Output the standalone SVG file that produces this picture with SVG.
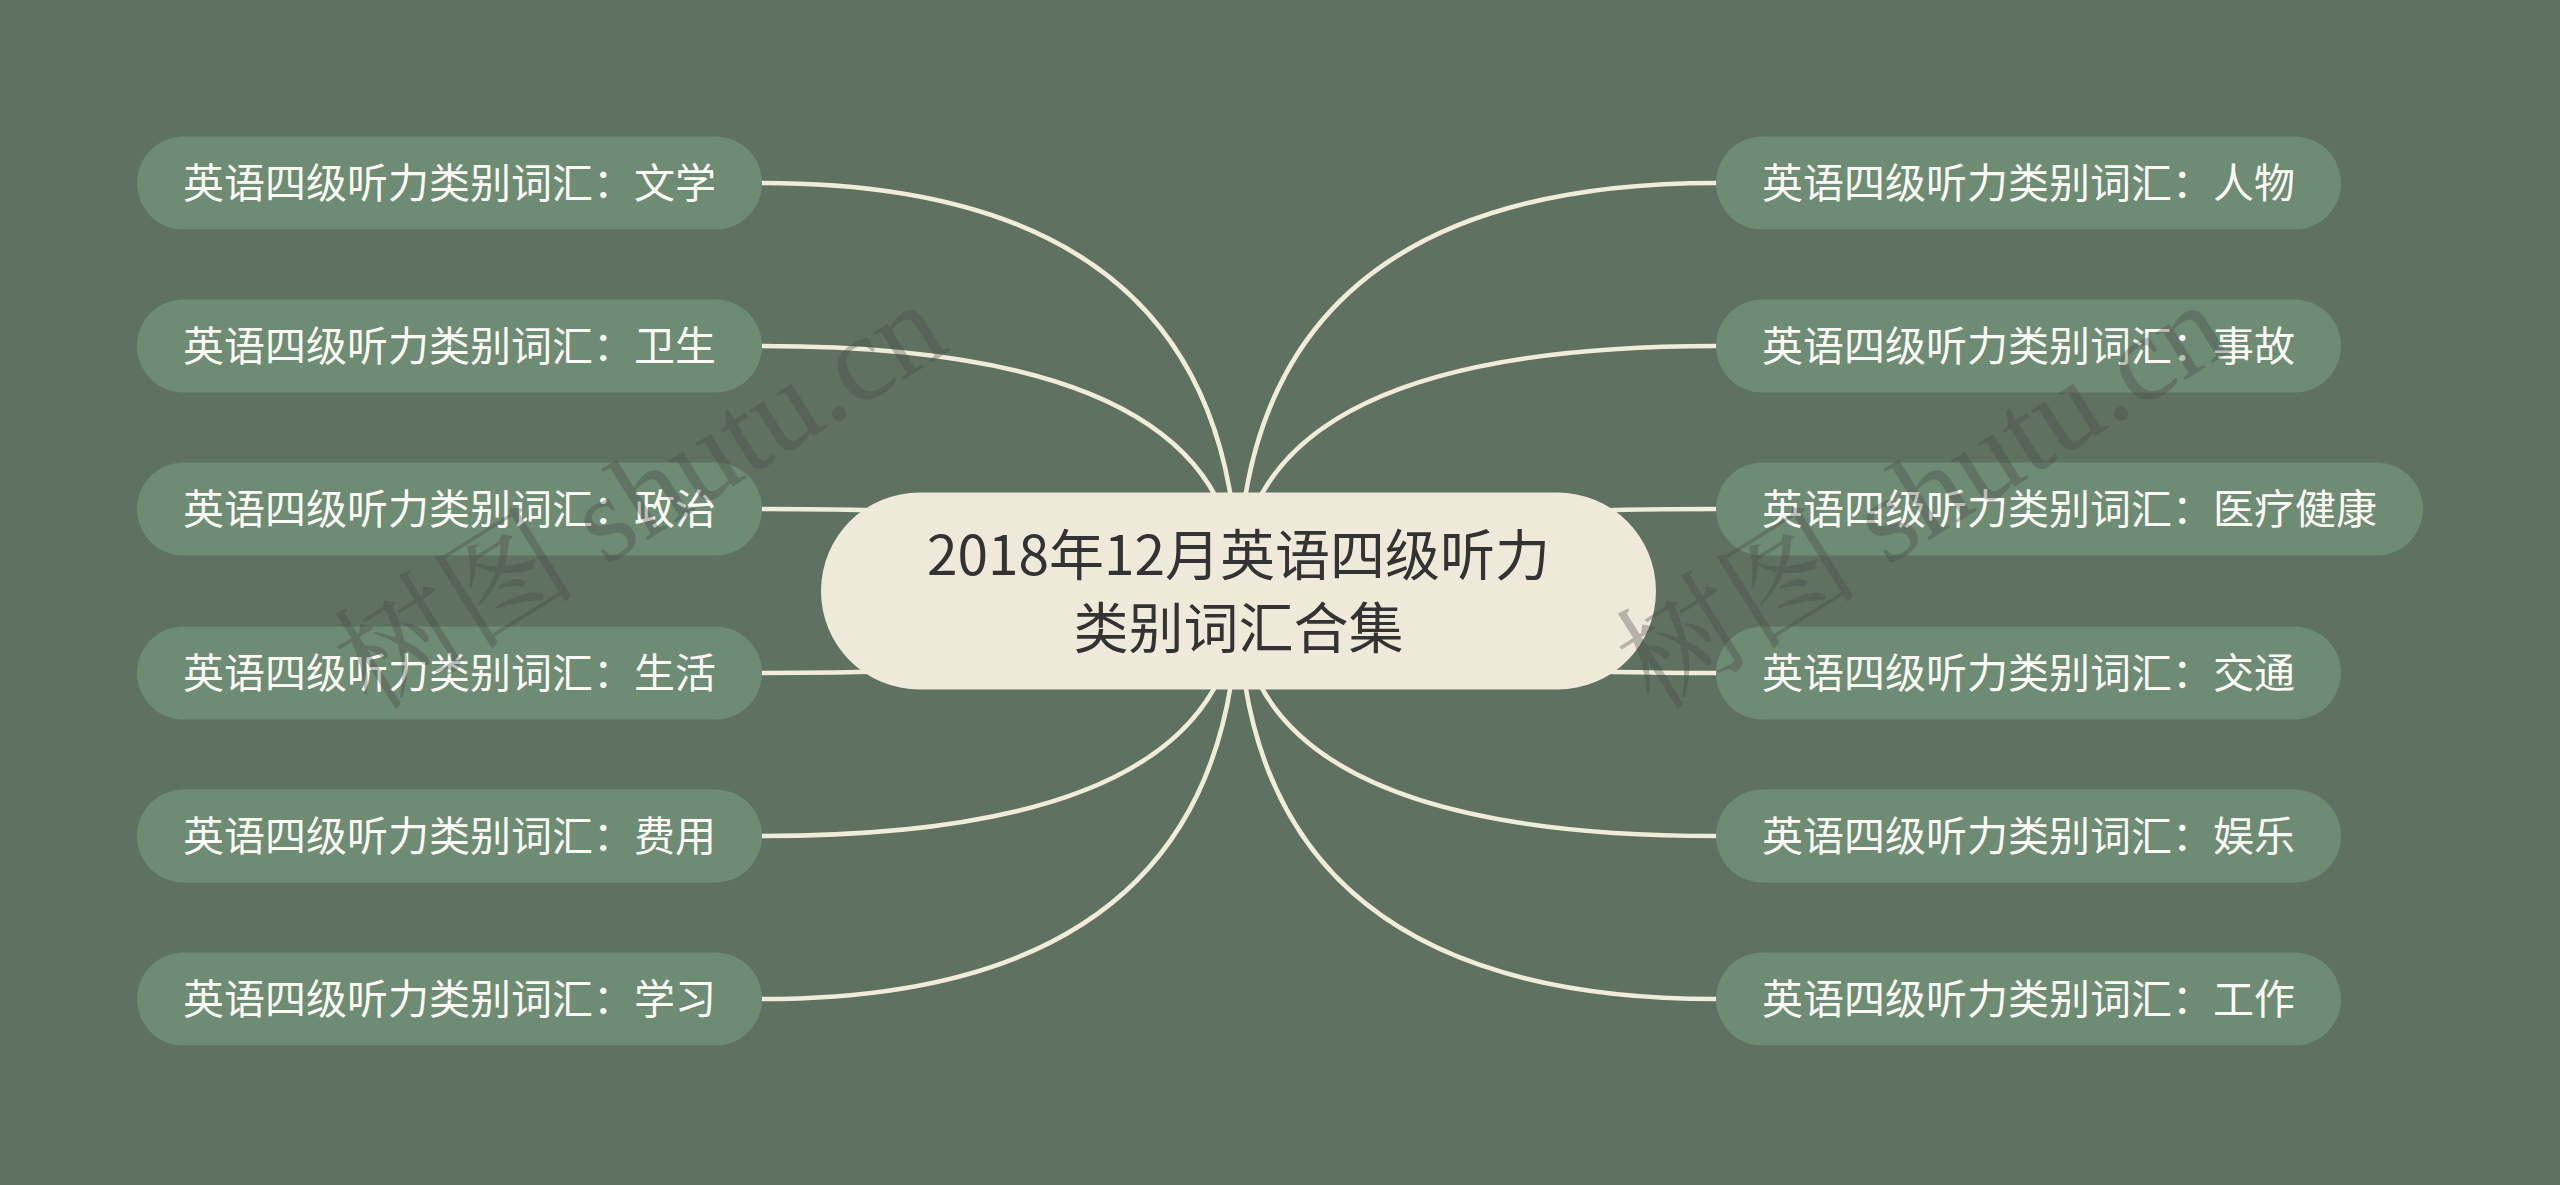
<svg xmlns="http://www.w3.org/2000/svg" width="2560" height="1185" viewBox="0 0 2560 1185">
<style>
.bg{fill:#5f7262}
.link{fill:none;stroke:#f1ecda;stroke-width:4.5;stroke-linecap:round}
.child rect{fill:#6e8b74}
.child text{fill:#fbfaf4;font-family:"Noto Sans CJK SC","Noto Sans",sans-serif;font-size:41px;text-anchor:middle}
.root rect{fill:#efe9da}
.root text{fill:#333333;font-family:"Noto Sans CJK SC","Noto Sans",sans-serif;font-size:55px;text-anchor:middle}
.wm{fill:#454545;opacity:0.33;font-family:"Liberation Serif","Noto Serif CJK SC","Noto Sans CJK SC",serif;font-size:122px}
</style>
<rect class="bg" x="0" y="0" width="2560" height="1185"/>
<g id="connectors">
<path class="link" d="M1238,591 Q1238,183 762,183"/>
<path class="link" d="M1238,591 Q1238,346 762,346"/>
<path class="link" d="M1238,591 Q1238,509 762,509"/>
<path class="link" d="M1238,591 Q1238,673 762,673"/>
<path class="link" d="M1238,591 Q1238,836 762,836"/>
<path class="link" d="M1238,591 Q1238,999 762,999"/>
<path class="link" d="M1238,591 Q1238,183 1716,183"/>
<path class="link" d="M1238,591 Q1238,346 1716,346"/>
<path class="link" d="M1238,591 Q1238,509 1716,509"/>
<path class="link" d="M1238,591 Q1238,673 1716,673"/>
<path class="link" d="M1238,591 Q1238,836 1716,836"/>
<path class="link" d="M1238,591 Q1238,999 1716,999"/>
</g>
<g id="root" class="root">
<rect x="821" y="492.5" width="835" height="197" rx="98.5" ry="98.5"/>
<text x="1238.5" y="575">2018年12月英语四级听力</text>
<text x="1238.5" y="648">类别词汇合集</text>
</g>
<g id="n-wenxue" class="child"><rect x="137" y="136.5" width="625" height="93" rx="46.5"/><text x="449.5" y="198">英语四级听力类别词汇：文学</text></g>
<g id="n-weisheng" class="child"><rect x="137" y="299.5" width="625" height="93" rx="46.5"/><text x="449.5" y="361">英语四级听力类别词汇：卫生</text></g>
<g id="n-zhengzhi" class="child"><rect x="137" y="462.5" width="625" height="93" rx="46.5"/><text x="449.5" y="524">英语四级听力类别词汇：政治</text></g>
<g id="n-shenghuo" class="child"><rect x="137" y="626.5" width="625" height="93" rx="46.5"/><text x="449.5" y="688">英语四级听力类别词汇：生活</text></g>
<g id="n-feiyong" class="child"><rect x="137" y="789.5" width="625" height="93" rx="46.5"/><text x="449.5" y="851">英语四级听力类别词汇：费用</text></g>
<g id="n-xuexi" class="child"><rect x="137" y="952.5" width="625" height="93" rx="46.5"/><text x="449.5" y="1014">英语四级听力类别词汇：学习</text></g>
<g id="n-renwu" class="child"><rect x="1716" y="136.5" width="625" height="93" rx="46.5"/><text x="2028.5" y="198">英语四级听力类别词汇：人物</text></g>
<g id="n-shigu" class="child"><rect x="1716" y="299.5" width="625" height="93" rx="46.5"/><text x="2028.5" y="361">英语四级听力类别词汇：事故</text></g>
<g id="n-yiliao" class="child"><rect x="1716" y="462.5" width="707" height="93" rx="46.5"/><text x="2069.5" y="524">英语四级听力类别词汇：医疗健康</text></g>
<g id="n-jiaotong" class="child"><rect x="1716" y="626.5" width="625" height="93" rx="46.5"/><text x="2028.5" y="688">英语四级听力类别词汇：交通</text></g>
<g id="n-yule" class="child"><rect x="1716" y="789.5" width="625" height="93" rx="46.5"/><text x="2028.5" y="851">英语四级听力类别词汇：娱乐</text></g>
<g id="n-gongzuo" class="child"><rect x="1716" y="952.5" width="625" height="93" rx="46.5"/><text x="2028.5" y="1014">英语四级听力类别词汇：工作</text></g>
<g id="watermarks">
<text class="wm" transform="translate(372,712) rotate(-32)">树图 shutu.cn</text>
<text class="wm" transform="translate(1654,712) rotate(-32)">树图 shutu.cn</text>
</g>
</svg>
